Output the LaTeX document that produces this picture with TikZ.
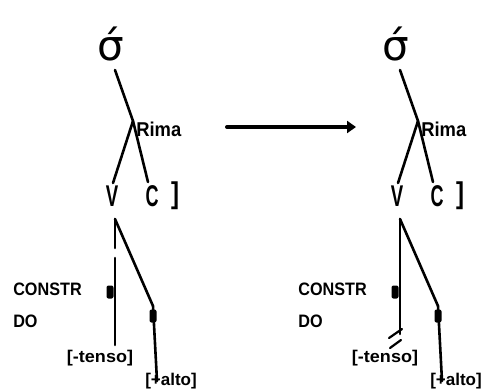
\documentclass[tikz,border=0pt]{standalone}
\usepackage{fontspec}
\setmainfont{Liberation Sans}
\newfontfamily\sigfont{DejaVu Sans}
\usetikzlibrary{arrows.meta}
\begin{document}
\begin{tikzpicture}[x=1pt,y=-1pt,line width=2.6pt,line cap=round,
  lbl/.style={inner sep=0pt,font=\fontsize{18}{18}\selectfont\bfseries},
  feat/.style={inner sep=0pt,font=\fontsize{17}{17}\selectfont\bfseries},
  seg/.style={inner sep=0pt,font=\fontsize{30}{30}\selectfont\bfseries},
  sig/.style={inner sep=0pt,font=\fontsize{42}{42}\sigfont},
  blob/.style={fill,rounded corners=2pt,inner sep=0pt,minimum width=7pt,minimum height=13pt}]
\useasboundingbox (0,0) rectangle (481,391);
\foreach \dx/\s in {0/L,285/R}{
\begin{scope}[shift={(\dx,0)}]
  \node[sig,anchor=base] (sig\s) at (111,60) {σ́};
  \coordinate (sb\s) at (115,70);
  \coordinate (j\s) at (133,121);
  \node[inner sep=0pt,anchor=west,font=\fontsize{20}{20}\selectfont\bfseries] (rima\s) at (135,129) {\scalebox{0.92}[1]{Rima}};
  \node[seg] (V\s) at (112,196) {\scalebox{0.62}[1]{V}};
  \node[seg] (C\s) at (152,196) {\scalebox{0.6}[1]{C}};
  \node[seg] (br\s) at (175,196) {\scalebox{0.8}[1]{]}};
  \coordinate (vt\s) at (113,183);
  \coordinate (ct\s) at (148,182);
  \draw (sb\s) -- (j\s);
  \draw (j\s) -- (vt\s);
  \draw (j\s) -- (ct\s);
  \coordinate (lv\s) at (115,219);
  \coordinate (dk\s) at (153,306);
  \coordinate (db\s) at (157,381);
  \draw (lv\s) -- (dk\s) -- (db\s);
  \node[blob] (b1\s) at (110,292) {};
  \node[blob] (b2\s) at (153,316) {};
  \node[lbl,anchor=west] (cons\s) at (12,289) {\scalebox{0.9}[1]{CONSTR}};
  \node[lbl,anchor=west] (do\s) at (12,321) {\scalebox{0.9}[1]{DO}};
  \node[feat] (ten\s) at (100,358) {\scalebox{1.06}[1]{[-tenso]}};
  \node[feat] (alt\s) at (171,381) {[+alto]};
\end{scope}}
% left: broken association line
\coordinate (g1) at (115,248);
\coordinate (g2) at (115,258);
\coordinate (lbL) at (115,345);
\draw (lvL) -- (g1);
\draw (g2) -- (lbL);
% right: delinked association line
\coordinate (lbR) at (400,334);
\draw (lvR) -- (lbR);
\draw[line width=2.2pt] (389,338) -- (402,329);
\draw[line width=2.2pt] (390,348) -- (401,340);
% arrow
\coordinate (a1) at (227,127);
\coordinate (a2) at (356,127);
\draw[line width=4pt,-{Triangle[length=9pt,width=12pt]}] (a1) -- (a2);
\end{tikzpicture}
\end{document}
